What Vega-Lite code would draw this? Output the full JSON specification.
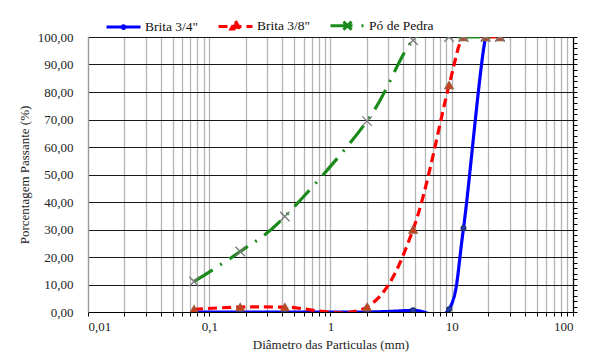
{
  "$schema": "https://vega.github.io/schema/vega-lite/v6.json",
  "width": 485,
  "height": 275,
  "autosize": "none",
  "padding": {"left": 88, "top": 37, "right": 17, "bottom": 46},
  "background": "white",
  "config": {
    "view": {"stroke": null},
    "axis": {"labelColor": "#222222", "titleColor": "#222222", "titleFontWeight": "normal", "labelFontSize": 13, "titleFontSize": 13, "labelFont": "Times New Roman", "titleFont": "Times New Roman"},
    "legend": {"labelFont": "Times New Roman"}
  },
  "data": {
    "values": [
      {"s": "Brita 3/4\"", "d": 0.075, "p": 0},
      {"s": "Brita 3/4\"", "d": 0.18, "p": 0},
      {"s": "Brita 3/4\"", "d": 0.42, "p": 0},
      {"s": "Brita 3/4\"", "d": 2.0, "p": 0},
      {"s": "Brita 3/4\"", "d": 4.8, "p": 0.6},
      {"s": "Brita 3/4\"", "d": 9.5, "p": 1.0},
      {"s": "Brita 3/4\"", "d": 12.5, "p": 30.5},
      {"s": "Brita 3/4\"", "d": 19, "p": 100},
      {"s": "Brita 3/4\"", "d": 25, "p": 100},
      {"s": "Brita 3/8\"", "d": 0.075, "p": 1.0},
      {"s": "Brita 3/8\"", "d": 0.18, "p": 1.8},
      {"s": "Brita 3/8\"", "d": 0.42, "p": 1.8},
      {"s": "Brita 3/8\"", "d": 2.0, "p": 1.8},
      {"s": "Brita 3/8\"", "d": 4.8, "p": 30.0},
      {"s": "Brita 3/8\"", "d": 9.5, "p": 82.5},
      {"s": "Brita 3/8\"", "d": 12.5, "p": 100},
      {"s": "Brita 3/8\"", "d": 19, "p": 100},
      {"s": "Brita 3/8\"", "d": 25, "p": 100},
      {"s": "Pó de Pedra", "d": 0.075, "p": 11.1},
      {"s": "Pó de Pedra", "d": 0.18, "p": 22.0},
      {"s": "Pó de Pedra", "d": 0.42, "p": 34.7},
      {"s": "Pó de Pedra", "d": 2.0, "p": 69.4},
      {"s": "Pó de Pedra", "d": 4.8, "p": 98.8},
      {"s": "Pó de Pedra", "d": 9.5, "p": 100},
      {"s": "Pó de Pedra", "d": 12.5, "p": 100},
      {"s": "Pó de Pedra", "d": 19, "p": 100},
      {"s": "Pó de Pedra", "d": 25, "p": 100}
    ]
  },
  "layer": [
    {
      "mark": {"type": "line", "interpolate": "cardinal", "clip": true, "strokeWidth": 3.2},
      "encoding": {
        "x": {
          "field": "d", "type": "quantitative",
          "scale": {"type": "log", "domain": [0.01, 100]},
          "axis": {
            "orient": "bottom",
            "values": [0.01, 0.1, 1, 10, 100],
            "labelExpr": "replace(format(datum.value, '~g'), '.', ',')",
            "labelFont": "Times New Roman",
            "grid": true, "gridColor": "#b4b4b4", "gridWidth": 1.3,
            "domain": true, "domainColor": "#000000", "domainWidth": 1.2,
            "ticks": true, "tickColor": "#000000", "tickSize": 4,
            "labelPadding": 4,
            "title": "Diâmetro  das Particulas (mm)",
            "titleFont": "Times New Roman",
            "titlePadding": 5
          }
        },
        "y": {
          "field": "p", "type": "quantitative",
          "scale": {"domain": [0, 100], "nice": false, "zero": true},
          "axis": {
            "orient": "left",
            "values": [0, 10, 20, 30, 40, 50, 60, 70, 80, 90, 100],
            "labelExpr": "replace(format(datum.value, '.2f'), '.', ',')",
            "labelFont": "Times New Roman",
            "grid": true, "gridColor": "#000000", "gridWidth": 1, "gridOpacity": 0.9,
            "domain": true, "domainColor": "#9a9a9a", "domainWidth": 1.2,
            "ticks": false,
            "labelPadding": 15,
            "title": "Porcentagem Passante (%)",
            "titleFont": "Times New Roman",
            "titlePadding": 6
          }
        },
        "color": {
          "field": "s", "type": "nominal",
          "scale": {"domain": ["Brita 3/4\"", "Brita 3/8\"", "Pó de Pedra"], "range": ["#0000ff", "#ff0000", "#1a8a1a"]},
          "legend": {
            "orient": "none", "legendX": 17, "legendY": -30,
            "direction": "horizontal", "title": null,
            "labelFont": "Times New Roman", "labelFontSize": 13.5, "labelColor": "#111111",
            "symbolSize": 1156, "symbolStrokeWidth": 3, "labelOffset": 3, "columnPadding": 13,
            "encode": {
              "symbols": {
                "update": {
                  "shape": {"signal": "datum.index === 0 ? 'M-1,0L1,0M-0.08,0A0.08,0.08 0 1,0 0.08,0A0.08,0.08 0 1,0 -0.08,0' : datum.index === 1 ? 'M-1,0L1,0M0,-0.32L0.27,0.16L-0.27,0.16Z' : 'M-1,0L1,0M-0.24,-0.24L0.24,0.24M0.24,-0.24L-0.24,0.24'"},
                  "fill": {"signal": "datum.index === 1 ? '#c8401e' : 'transparent'"}
                }
              }
            }
          }
        },
        "strokeDash": {
          "field": "s", "type": "nominal",
          "scale": {"domain": ["Brita 3/4\"", "Brita 3/8\"", "Pó de Pedra"], "range": [[1, 0], [9, 5], [22, 9, 2, 9]]}
        }
      }
    },
    {
      "transform": [{"filter": "datum.s === 'Brita 3/4\"'"}],
      "mark": {"type": "point", "clip": true, "shape": "circle", "size": 22, "filled": false, "fill": "#1f3fbf", "stroke": "#1f2f6f", "strokeWidth": 1.3, "opacity": 1},
      "encoding": {
        "x": {
          "field": "d", "type": "quantitative",
          "axis": {
            "orient": "bottom",
            "values": [0.02, 0.03, 0.04, 0.05, 0.06, 0.07, 0.08, 0.09, 0.2, 0.3, 0.4, 0.5, 0.6, 0.7, 0.8, 0.9, 2, 3, 4, 5, 6, 7, 8, 9, 20, 30, 40, 50, 60, 70, 80, 90],
            "grid": true, "gridColor": "#b4b4b4", "gridWidth": 1.3,
            "labels": false, "domain": false,
            "ticks": true, "tickColor": "#000000", "tickSize": 4,
            "title": null
          }
        },
        "y": {
          "field": "p", "type": "quantitative",
          "axis": {
            "orient": "right",
            "values": [0, 2, 4, 6, 8, 10, 12, 14, 16, 18, 20, 22, 24, 26, 28, 30, 32, 34, 36, 38, 40, 42, 44, 46, 48, 50, 52, 54, 56, 58, 60, 62, 64, 66, 68, 70, 72, 74, 76, 78, 80, 82, 84, 86, 88, 90, 92, 94, 96, 98, 100],
            "grid": false, "labels": false,
            "domain": true, "domainColor": "#000000", "domainWidth": 1.2,
            "ticks": true, "tickColor": "#000000", "tickSize": 4,
            "title": null
          }
        }
      }
    },
    {
      "transform": [{"filter": "datum.s === 'Brita 3/8\"'"}],
      "mark": {"type": "point", "clip": true, "shape": "triangle-up", "size": 70, "filled": false, "fill": "#c8401e", "stroke": "#a05a3c", "strokeWidth": 1.2, "opacity": 1},
      "encoding": {
        "x": {"field": "d", "type": "quantitative", "axis": null},
        "y": {"field": "p", "type": "quantitative", "axis": null}
      }
    },
    {
      "transform": [{"filter": "datum.s === 'Pó de Pedra'"}],
      "mark": {"type": "point", "clip": true, "shape": "M-1,-1L1,1M1,-1L-1,1", "size": 90, "filled": false, "fill": "transparent", "stroke": "#777777", "strokeWidth": 1.3, "opacity": 1},
      "encoding": {
        "x": {"field": "d", "type": "quantitative", "axis": null},
        "y": {"field": "p", "type": "quantitative", "axis": null}
      }
    }
  ],
  "resolve": {"axis": {"x": "independent", "y": "independent"}}
}
